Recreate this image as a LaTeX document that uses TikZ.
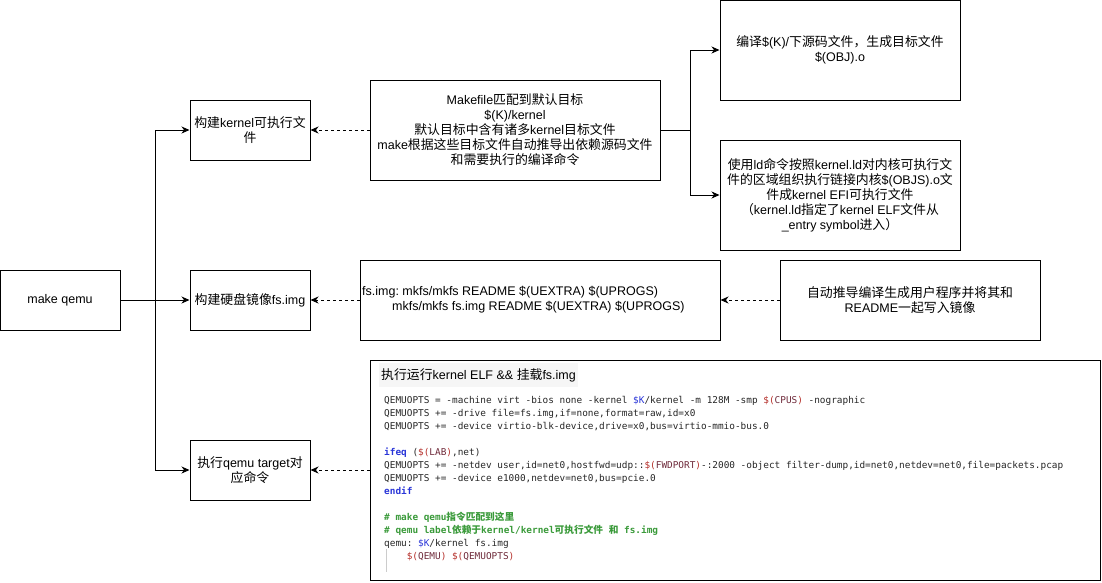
\documentclass[tikz,border=0pt]{standalone}
\usepackage{fontspec}
\setmainfont{Liberation Sans}
\newfontfamily\cjk[Scale=1.03]{Noto Sans CJK SC}
\newfontfamily\codefont{DejaVu Sans Mono}
\usetikzlibrary{arrows.meta}
% automatic switch to the CJK font for CJK characters
\XeTeXinterchartokenstate=1
\newXeTeXintercharclass\CJKclass
\newcount\cjkcnt
\cjkcnt="3000 \loop\ifnum\cjkcnt<"3040 \XeTeXcharclass\cjkcnt=\CJKclass \advance\cjkcnt by 1 \repeat
\cjkcnt="4E00 \loop\ifnum\cjkcnt<"A000 \XeTeXcharclass\cjkcnt=\CJKclass \advance\cjkcnt by 1 \repeat
\cjkcnt="FF00 \loop\ifnum\cjkcnt<"FFF0 \XeTeXcharclass\cjkcnt=\CJKclass \advance\cjkcnt by 1 \repeat
\XeTeXinterchartoks 0 \CJKclass = {\begingroup\cjk}
\XeTeXinterchartoks 4095 \CJKclass = {\begingroup\cjk}
\XeTeXinterchartoks \CJKclass 0 = {\endgroup}
\XeTeXinterchartoks \CJKclass 4095 = {\endgroup}
\definecolor{codetxt}{HTML}{262626}
\definecolor{kwblue}{HTML}{2A36D8}
\definecolor{vred}{HTML}{B5302B}
\definecolor{vin}{HTML}{6E2A3A}
\definecolor{cmgreen}{HTML}{3A9A3A}
\definecolor{titlebg}{HTML}{F6F6F6}
\newcommand\codeK{\textcolor{kwblue}{\$K}}
\newcommand\codeV[1]{\textcolor{vred}{\$(}\textcolor{vin}{#1}\textcolor{vred}{)}}
\newcommand\codeKW[1]{\textcolor{kwblue}{\bfseries #1}}
\newcommand\codeCM[1]{\textcolor{cmgreen}{\bfseries #1}}
\frenchspacing
\begin{document}
\begin{tikzpicture}[x=1pt,y=-1pt,
  every node/.style={font=\frenchspacing\fontsize{12.5}{15}\selectfont},
  box/.style={draw, line width=1pt, inner sep=0pt, align=center},
  conn/.style={line width=1pt, -{Stealth[length=8pt,width=7pt,inset=2.5pt]}},
  dconn/.style={conn, dash pattern=on 3pt off 3pt},
  plain/.style={line width=1pt},
  codeline/.style={anchor=base west, inner sep=0pt, text=codetxt,
    font=\frenchspacing\codefont\fontsize{9.4}{13}\selectfont}
]
\useasboundingbox (0,0) rectangle (1102,582);
% boxes
\node[box, minimum width=120pt, minimum height=60pt] (mq) at (60,300) {make qemu};
\node[box, minimum width=120pt, minimum height=60pt] (k) at (250,130) {构建kernel可执行文\\件};
\node[box, minimum width=120pt, minimum height=60pt] (h) at (250,300) {构建硬盘镜像fs.img};
\node[box, minimum width=120pt, minimum height=60pt] (q) at (250,470) {执行qemu target对\\应命令};
\node[box, minimum width=290pt, minimum height=100pt] (mk) at (515,130)
  {Makefile匹配到默认目标\\\$(K)/kernel\\默认目标中含有诸多kernel目标文件\\make根据这些目标文件自动推导出依赖源码文件\\和需要执行的编译命令};
\node[box, minimum width=240pt, minimum height=100pt] (obj) at (840,50)
  {编译\$(K)/下源码文件，生成目标文件\\\$(OBJ).o};
\node[box, minimum width=240pt, minimum height=110pt] (ld) at (840,195)
  {使用ld命令按照kernel.ld对内核可执行文\\件的区域组织执行链接内核\$(OBJS).o文\\件成kernel EFI可执行文件\\（kernel.ld指定了kernel ELF文件从\\\_entry symbol进入）};
\node[box, minimum width=360pt, minimum height=80pt] (fs) at (540,300) {};
\node[anchor=west, inner sep=0pt, align=left] (fstxt) at (362,300)
  {fs.img: mkfs/mkfs README \$(UEXTRA) \$(UPROGS)\\\hspace*{30pt}mkfs/mkfs fs.img README \$(UEXTRA) \$(UPROGS)};
\node[box, minimum width=260pt, minimum height=80pt] (auto) at (910,300)
  {自动推导编译生成用户程序并将其和\\README一起写入镜像};
\node[box, minimum width=730pt, minimum height=220pt] (code) at (735,470) {};
\node[anchor=west, fill=titlebg, inner xsep=2pt, minimum height=24pt] (title) at (379,375)
  {执行运行kernel ELF \&\& 挂载fs.img};
% code lines
\node[codeline] (c1) at (384,403.5) {QEMUOPTS = -machine virt -bios none -kernel \codeK/kernel -m 128M -smp \codeV{CPUS} -nographic};
\node[codeline] (c2) at (384,416.5) {QEMUOPTS += -drive file=fs.img,if=none,format=raw,id=x0};
\node[codeline] (c3) at (384,429.5) {QEMUOPTS += -device virtio-blk-device,drive=x0,bus=virtio-mmio-bus.0};
\node[codeline] (c5) at (384,455.5) {\codeKW{ifeq} (\codeV{LAB},net)};
\node[codeline] (c6) at (384,468.5) {QEMUOPTS += -netdev user,id=net0,hostfwd=udp::\codeV{FWDPORT}-:2000 -object filter-dump,id=net0,netdev=net0,file=packets.pcap};
\node[codeline] (c7) at (384,481.5) {QEMUOPTS += -device e1000,netdev=net0,bus=pcie.0};
\node[codeline] (c8) at (384,494.5) {\codeKW{endif}};
\node[codeline] (c10) at (384,520.5) {\codeCM{\# make qemu指令匹配到这里}};
\node[codeline] (c11) at (384,533.5) {\codeCM{\# qemu label依赖于kernel/kernel可执行文件 和 fs.img}};
\node[codeline] (c12) at (384,546.5) {qemu: \codeK/kernel fs.img};
\node[codeline] (c13) at (406.6,559.5) {\codeV{QEMU} \codeV{QEMUOPTS}};
\draw[black!20, line width=0.8pt] (386,549) -- (386,572);
% connectors
\coordinate (jn) at (155,300);
\coordinate (sp) at (690,130);
\draw[conn] (mq.east) -- (h.west);
\draw[conn] (jn) |- (k.west);
\draw[conn] (jn) |- (q.west);
\draw[dconn] (mk.west) -- (k.east);
\draw[dconn] (fs.west) -- (h.east);
\draw[dconn] (code.west) -- (q.east);
\draw[dconn] (auto.west) -- (fs.east);
\draw[plain] (mk.east) -- (sp);
\draw[conn] (sp) |- (obj.west);
\draw[conn] (sp) |- (ld.west);
\end{tikzpicture}
\end{document}
